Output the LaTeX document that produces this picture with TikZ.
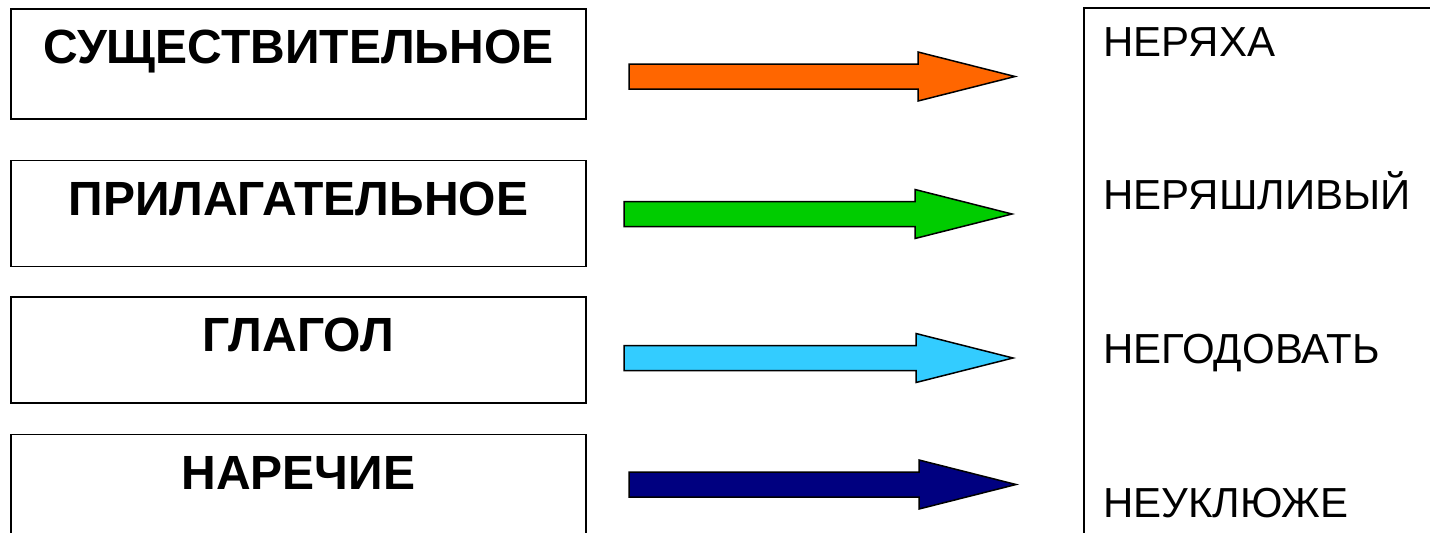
\documentclass[tikz,border=0pt]{standalone}
\usepackage{fontspec}
\setmainfont{Liberation Sans}
\usepackage{tikz}
\usetikzlibrary{positioning}
\definecolor{arrorange}{HTML}{FF6600}
\definecolor{arrgreen}{HTML}{00CC00}
\definecolor{arrcyan}{HTML}{33CCFF}
\definecolor{arrnavy}{HTML}{000080}

\begin{document}
\begin{tikzpicture}[
x=0.5pt,y=-0.5pt,
posbox/.style={
draw=black,
line width=0.75pt,
inner sep=0pt,
minimum width=287.5pt,
text height=27.5pt,
font=\bfseries\fontsize{24}{28}\selectfont},
wordtxt/.style={
inner sep=0pt,
anchor=base west,
font=\fontsize{21}{24}\selectfont},
blockarrow/.style={draw=black,line width=0.75pt,line join=miter}
]
\useasboundingbox (0,0) rectangle (1430,532);
\node[posbox,text depth=27.5pt,anchor=north west] (noun) at (10,8) {СУЩЕСТВИТЕЛЬНОЕ};
      \node[posbox,text depth=25.5pt,below=20pt of noun] (adj) {ПРИЛАГАТЕЛЬНОЕ};
      \node[posbox,text depth=25.5pt,below=14.5pt of adj] (verb) {ГЛАГОЛ};
      \node[posbox,text depth=45pt,below=15pt of verb] (adv) {НАРЕЧИЕ};
      \draw[line width=0.75pt] (1084,560) |- (1460,8);
      \node[wordtxt] (w1) at (1103,56) {НЕРЯХА};
      \node[wordtxt] (w2) at (1103,209) {НЕРЯШЛИВЫЙ};
      \node[wordtxt] (w3) at (1103,363) {НЕГОДОВАТЬ};
      \node[wordtxt] (w4) at (1103,517) {НЕУКЛЮЖЕ};
      \foreach \y/\xa/\xb/\c in {
      76.5/629/1015/arrorange,
      214/624/1012/arrgreen,
      358/624/1013/arrcyan,
      484.5/629/1016/arrnavy}
       \filldraw[blockarrow,fill=\c] (\xa,\y-12.5) -- (\xb-97,\y-12.5) -- (\xb-97,\y-24.5) -- (\xb,\y)
        -- (\xb-97,\y+24.5) -- (\xb-97,\y+12.5) -- (\xa,\y+12.5) -- cycle;
\end{tikzpicture}
\end{document}
